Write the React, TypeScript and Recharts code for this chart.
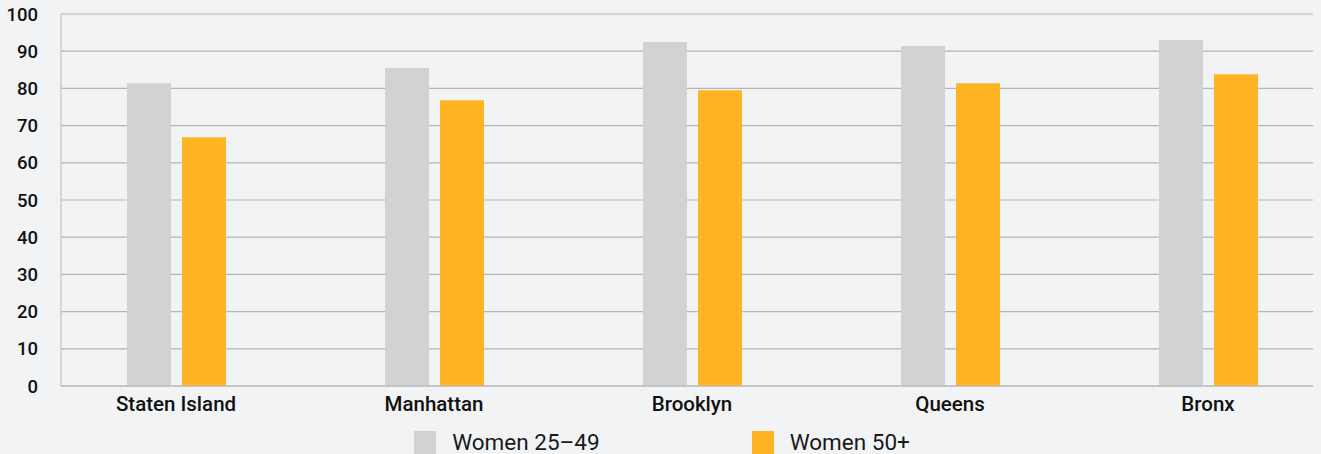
import { BarChart, Bar, XAxis, YAxis, CartesianGrid, Legend } from "recharts";

// Share of women (%) by borough and age group
const boroughs = ["Staten Island", "Manhattan", "Brooklyn", "Queens", "Bronx"];
const women25to49 = [81.4, 85.5, 92.5, 91.4, 93.0];
const women50plus = [66.9, 76.8, 79.5, 81.4, 83.8];
const yTicks = [0, 10, 20, 30, 40, 50, 60, 70, 80, 90, 100];

const data = boroughs.map((name, i) => ({
    name,
    young: women25to49[i],
    older: women50plus[i],
}));

const GRAY = "#d1d2d4";
const ORANGE = "#ffb424";
const FONT = "Roboto, 'Noto Sans', sans-serif";

const seriesLegend = [
    { label: "Women 25–49", color: GRAY },
    { label: "Women 50+", color: ORANGE },
];

function LegendRow() {
    return (
        <div
            style={{
                display: "flex",
                justifyContent: "center",
                paddingTop: 15,
                paddingLeft: 11,
                fontFamily: FONT,
                fontSize: 22.5,
                color: "#1a1a1a",
            }}
        >
            {seriesLegend.map((s, i) => (
                <div
                    key={s.label}
                    style={{
                        display: "flex",
                        alignItems: "center",
                        marginRight: i === 0 ? 152 : 0,
                        height: 23,
                    }}
                >
                    <span
                        style={{
                            width: 22,
                            height: 23,
                            background: s.color,
                            marginRight: 16,
                            display: "inline-block",
                        }}
                    />
                    <span style={{ lineHeight: "23px" }}>{s.label}</span>
                </div>
            ))}
        </div>
    );
}

export default function App() {
    return (
        <div
            style={{
                position: "absolute",
                left: 0,
                top: 0,
                width: 1321,
                height: 454,
                background: "#f2f3f5",
                overflow: "hidden",
            }}
        >
            <BarChart
                width={1321}
                height={454}
                data={data}
                margin={{ top: 14, right: 8, bottom: 0, left: 0 }}
                barSize={44}
                barGap={11}
            >
                <CartesianGrid
                    vertical={false}
                    stroke="#b5b5b7"
                    strokeWidth={1.2}
                />
                <XAxis
                    dataKey="name"
                    height={30}
                    padding={{ left: -14, right: -24 }}
                    axisLine={{ stroke: "#b5b5b7", strokeWidth: 1.2 }}
                    tickLine={false}
                    tickMargin={4}
                    tick={{
                        fill: "#111",
                        fontFamily: FONT,
                        fontSize: 20.5,
                        fontWeight: 500,
                    }}
                />
                <YAxis
                    width={61}
                    domain={[0, 100]}
                    ticks={yTicks}
                    interval={0}
                    axisLine={{ stroke: "#c4c4c6", strokeWidth: 1.2 }}
                    tickLine={false}
                    tickMargin={17}
                    tick={{
                        fill: "#111",
                        fontFamily: FONT,
                        fontSize: 18.5,
                        fontWeight: 500,
                    }}
                />
                <Legend verticalAlign="bottom" content={<LegendRow />} />
                <Bar
                    dataKey="young"
                    name="Women 25–49"
                    fill={GRAY}
                    isAnimationActive={false}
                />
                <Bar
                    dataKey="older"
                    name="Women 50+"
                    fill={ORANGE}
                    isAnimationActive={false}
                />
            </BarChart>
        </div>
    );
}
